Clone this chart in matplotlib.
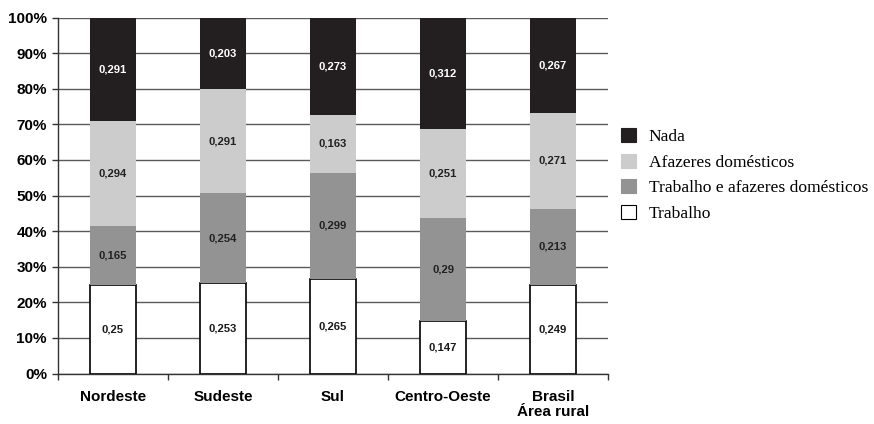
import matplotlib
matplotlib.use("Agg")
import matplotlib.pyplot as plt
from matplotlib.patches import Patch
from matplotlib.ticker import FixedLocator, PercentFormatter

regions = ["Nordeste", "Sudeste", "Sul", "Centro-Oeste", "Brasil\nÁrea rural"]
trabalho = [0.25, 0.253, 0.265, 0.147, 0.249]
trab_afaz = [0.165, 0.254, 0.299, 0.29, 0.213]
afazeres = [0.294, 0.291, 0.163, 0.251, 0.271]
nada = [0.291, 0.203, 0.273, 0.312, 0.267]
y_ticks = [0, 0.1, 0.2, 0.3, 0.4, 0.5, 0.6, 0.7, 0.8, 0.9, 1.0]

series = [
    ("Trabalho", trabalho, "#ffffff", "#1a1a1a", "black"),
    ("Trabalho e afazeres domésticos", trab_afaz, "#939393", "#222222", "none"),
    ("Afazeres domésticos", afazeres, "#cccccc", "#222222", "none"),
    ("Nada", nada, "#231f20", "#ffffff", "none"),
]

fig = plt.figure(figsize=(8.74, 4.24), dpi=100)
ax = fig.add_axes([0.0664, 0.1191, 0.6293, 0.8396])

x = [i + 0.5 for i in range(len(regions))]
bottoms = [0.0] * len(regions)
for name, vals, fc, tc, ec in series:
    ax.bar(x, vals, width=0.41, bottom=bottoms, color=fc, edgecolor=ec,
           linewidth=1.2 if ec != "none" else 0, zorder=3)
    for xi, b, v in zip(x, bottoms, vals):
        ax.text(xi, b + v / 2, str(v).replace(".", ","), ha="center", va="center",
                fontsize=8.1, fontweight="bold", color=tc, zorder=4,
                family=["Liberation Sans", "DejaVu Sans"])
    bottoms = [b + v for b, v in zip(bottoms, vals)]

ax.set_xlim(0, len(regions))
ax.set_ylim(0, 1.0)
ax.set_yticks(y_ticks)
ax.yaxis.set_major_formatter(PercentFormatter(1.0, decimals=0))
ax.yaxis.grid(True, color="#5a5a5a", linewidth=1.0, zorder=0)

ax.xaxis.set_major_locator(FixedLocator(x))
ax.set_xticklabels(regions, fontsize=11, fontweight="bold",
                   family=["Liberation Sans", "DejaVu Sans"], linespacing=1.05)
ax.xaxis.set_minor_locator(FixedLocator(list(range(len(regions) + 1))))
ax.tick_params(axis="x", which="major", length=0, pad=12)
ax.tick_params(axis="x", which="minor", length=4, width=1, color="#333333", direction="out")
ax.tick_params(axis="y", length=4, width=1, color="#333333", pad=4)
for lab in ax.get_yticklabels():
    lab.set_fontweight("bold")
    lab.set_fontsize(11)
    lab.set_family(["Liberation Sans", "DejaVu Sans"])

for s in ["top", "right"]:
    ax.spines[s].set_visible(False)
for s in ["left", "bottom"]:
    ax.spines[s].set_color("#333333")
    ax.spines[s].set_linewidth(1.0)
    ax.spines[s].set_zorder(5)

handles = [Patch(facecolor=fc, edgecolor=("black" if fc == "#ffffff" else fc), linewidth=0.8)
           for _, _, fc, _, _ in reversed(series)]
labels = [name for name, _, _, _, _ in reversed(series)]
leg = fig.legend(handles, labels, loc="upper left", bbox_to_anchor=(0.711, 0.698),
                 frameon=False, prop={"family": ["Liberation Serif", "DejaVu Serif"], "size": 12.6},
                 handlelength=0.85, handleheight=0.85, handletextpad=0.7, labelspacing=0.49,
                 borderaxespad=0, borderpad=0)

fig.savefig("out.png", dpi=100)
